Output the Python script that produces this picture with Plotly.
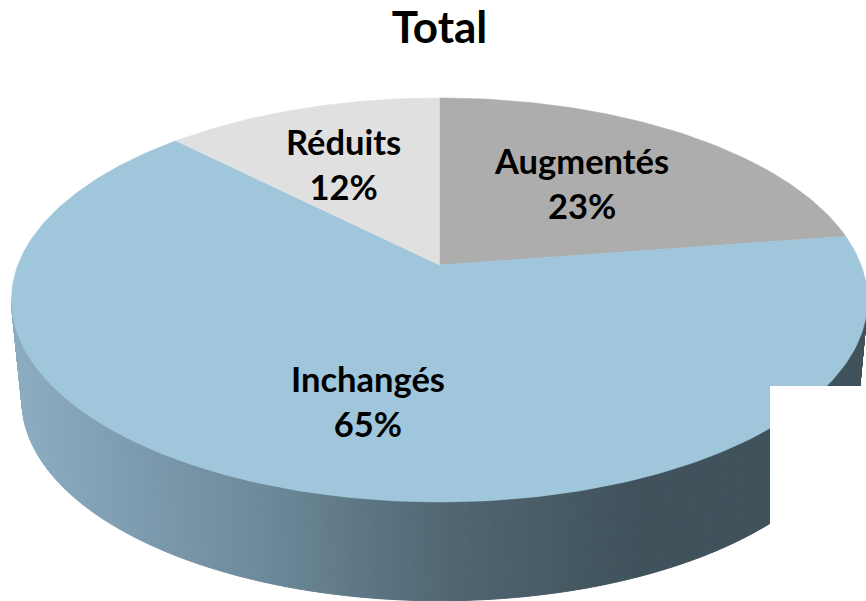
import math
import plotly.graph_objects as go

categories = ["Augmentés", "Inchangés", "Réduits"]
shares = [22.6, 65.0, 12.4]
title_text = "Total"

# styling / layout constants
W, H = 866, 601
slice_colors = ["#ADADAD", "#9FC6DB", "#E0E0E0"]
label_xy = {"Augmentés": (581, 183), "Inchangés": (368, 401), "Réduits": (343.5, 164)}
wall_stops = [(20, (140, 172, 193)), (250, (111, 140, 157)), (450, (80, 102, 114)),
              (640, (64, 82, 91)), (866, (64, 82, 91))]
K = 0.173                                   # perspective strength
TOP = dict(cx=439.5, cy=265.0, a=421.6, b=196.0)
BOT = dict(cx=440.0, cy=365.7, a=411.7, b=194.4)


def project(theta, d):
    w = 1 + K * math.cos(theta)
    return d["cx"] + d["a"] * math.sin(theta) / w, d["cy"] - d["b"] * math.cos(theta) / w


def wall_color(x):
    for (x0, c0), (x1, c1) in zip(wall_stops, wall_stops[1:]):
        if x <= x1:
            t = max(0.0, (x - x0) / (x1 - x0))
            return "rgb(%d,%d,%d)" % tuple(round(p + (q - p) * t) for p, q in zip(c0, c1))
    return "rgb(%d,%d,%d)" % wall_stops[-1][1]


fig = go.Figure()

# side wall: thin strips along the front of the disc
n_strips = 320
start, end = math.radians(100), math.radians(260)
for i in range(n_strips):
    t0 = start + (end - start) * i / n_strips
    t1 = start + (end - start) * (i + 1) / n_strips
    p = [project(t0, TOP), project(t1, TOP), project(t1, BOT), project(t0, BOT)]
    col = wall_color(sum(q[0] for q in p) / 4)
    fig.add_trace(go.Scatter(
        x=[q[0] for q in p] + [p[0][0]], y=[q[1] for q in p] + [p[0][1]],
        mode="lines", fill="toself", fillcolor=col, line=dict(color=col, width=1),
        hoverinfo="skip", showlegend=False))

# top face: one polygon per share
total = sum(shares)
cum = 0.0
for name, val, col in zip(categories, shares, slice_colors):
    a0 = 2 * math.pi * cum / total
    a1 = 2 * math.pi * (cum + val) / total
    steps = max(2, int(val * 4))
    pts = [project(a0 + (a1 - a0) * j / steps, TOP) for j in range(steps + 1)]
    xs = [TOP["cx"]] + [q[0] for q in pts] + [TOP["cx"]]
    ys = [TOP["cy"]] + [q[1] for q in pts] + [TOP["cy"]]
    fig.add_trace(go.Scatter(x=xs, y=ys, mode="lines", fill="toself", fillcolor=col,
                             line=dict(color=col, width=0.5), name=name, showlegend=False))
    cum += val
    lx, ly = label_xy[name]
    fig.add_annotation(x=lx, y=ly, xref="x", yref="y", showarrow=False,
                       text=f"<b>{name}<br>{round(val)}%</b>",
                       font=dict(family="Lato", size=34.5, color="#000000"))

# white patch covering the lower right of the chart
fig.add_shape(type="rect", x0=770, x1=W, y0=386, y1=H, fillcolor="#FFFFFF",
              line=dict(width=0), layer="above")

fig.update_layout(
    width=W, height=H, margin=dict(l=0, r=0, t=0, b=0),
    paper_bgcolor="#FFFFFF", plot_bgcolor="#FFFFFF", showlegend=False,
    title=dict(text=f"<b>{title_text}</b>", x=439.5 / W, xanchor="center",
               y=1 - 28 / H, yanchor="middle",
               font=dict(family="Lato", size=44, color="#000000")),
    xaxis=dict(range=[0, W], visible=False, fixedrange=True),
    yaxis=dict(range=[H, 0], visible=False, fixedrange=True),
)

fig.write_html("out.html", config={"displayModeBar": False},
               post_script="document.body.style.margin='0';document.body.style.overflow='hidden';")
